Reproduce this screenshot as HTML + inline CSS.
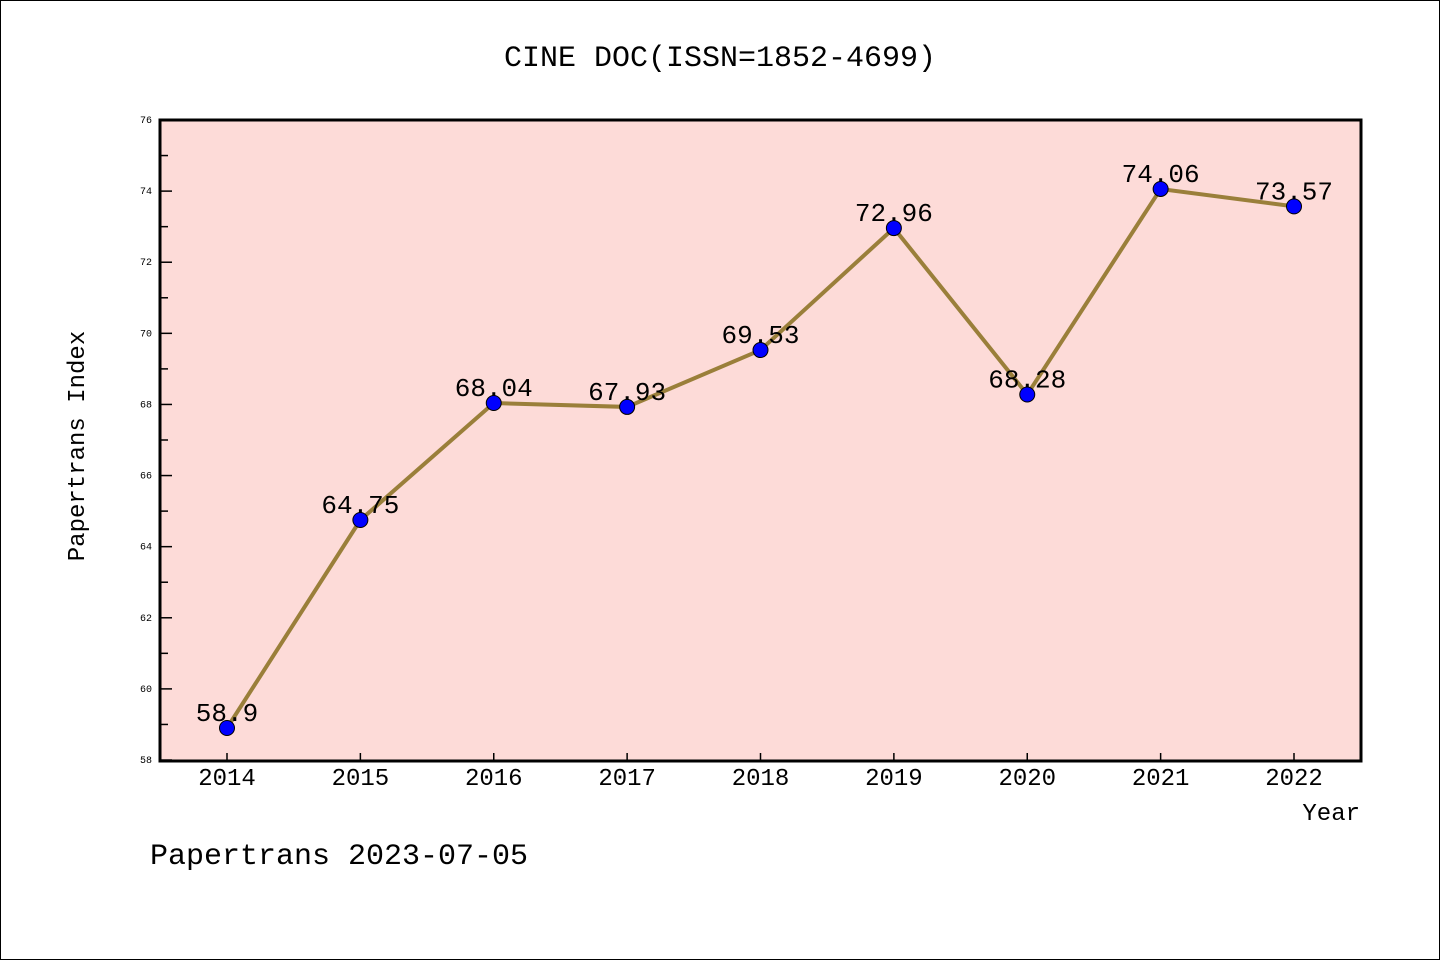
<!DOCTYPE html>
<html><head><meta charset="utf-8"><style>
body{margin:0;background:#fff}
svg{display:block}
text{font-family:"WenQuanYi Zen Hei","Liberation Mono",monospace;fill:#000}
</style></head><body>
<svg id="c" width="1440" height="960">
<rect x="0.5" y="0.5" width="1439" height="959" fill="#fff" stroke="#000"/>
<text x="720" y="66" font-size="30" text-anchor="middle">CINE DOC(ISSN=1852-4699)</text>
<rect x="160" y="120" width="1201" height="641" fill="#fddbd8" stroke="#000" stroke-width="3"/>
<text x="0" y="0" font-size="24" text-anchor="middle" transform="translate(84,446) rotate(-90)">Papertrans Index</text>
<text x="1360" y="820" font-size="24" text-anchor="end">Year</text>
<text x="150" y="864" font-size="30">Papertrans 2023-07-05</text>
<g id="ax"></g><g id="mk"></g>
</svg>
<script>
const years=[2014,2015,2016,2017,2018,2019,2020,2021,2022];
const values=[58.9,64.75,68.04,67.93,69.53,72.96,68.28,74.06,73.57];
const labels=["58.9","64.75","68.04","67.93","69.53","72.96","68.28","74.06","73.57"];
const yTicks=[58,60,62,64,66,68,70,72,74,76];
const NS="http://www.w3.org/2000/svg";
const xs=i=>227+i*(1294-227)/8;
const ys=v=>760-(v-58)*(640/18);
const ax=document.getElementById('ax'),mk=document.getElementById('mk');
function mkEl(t,a,p){const e=document.createElementNS(NS,t);for(const k in a)e.setAttribute(k,a[k]);p.appendChild(e);return e;}
yTicks.forEach(v=>{
 const y=ys(v);
 const l=mkEl('line',{x1:160,x2:172,y1:y,y2:y,stroke:'#000','stroke-width':1.5},ax);
 
 
 const t=mkEl('text',{x:152,y:y+3,'font-size':10,'text-anchor':'end'},ax);
 t.textContent=v;
 
 
 if(v<76){const m=ys(v+1);const l2=mkEl('line',{x1:160,x2:168,y1:m,y2:m,stroke:'#000','stroke-width':1.5},ax);
 
 }
});
years.forEach((yr,i)=>{
 const x=xs(i);
 const l=mkEl('line',{x1:x,x2:x,y1:761,y2:753,stroke:'#000','stroke-width':1.5},ax);
 
 
 const t=mkEl('text',{x:x,y:785,'font-size':24,'text-anchor':'middle'},ax);
 t.textContent=yr;
 
 
});
const pl=mkEl('polyline',{points:values.map((v,i)=>xs(i)+','+ys(v)).join(' '),fill:'none',stroke:'#9a7f3a','stroke-width':4},mk);


values.forEach((v,i)=>{
 const c=mkEl('circle',{cx:xs(i),cy:ys(v),r:7.5,fill:'#0000ff',stroke:'#000','stroke-width':1},mk);
 
 
 const t=mkEl('text',{x:xs(i),y:ys(v)-7,'font-size':26,'text-anchor':'middle'},mk);
 t.textContent=labels[i];
 
 
});
</script>
</body></html>
